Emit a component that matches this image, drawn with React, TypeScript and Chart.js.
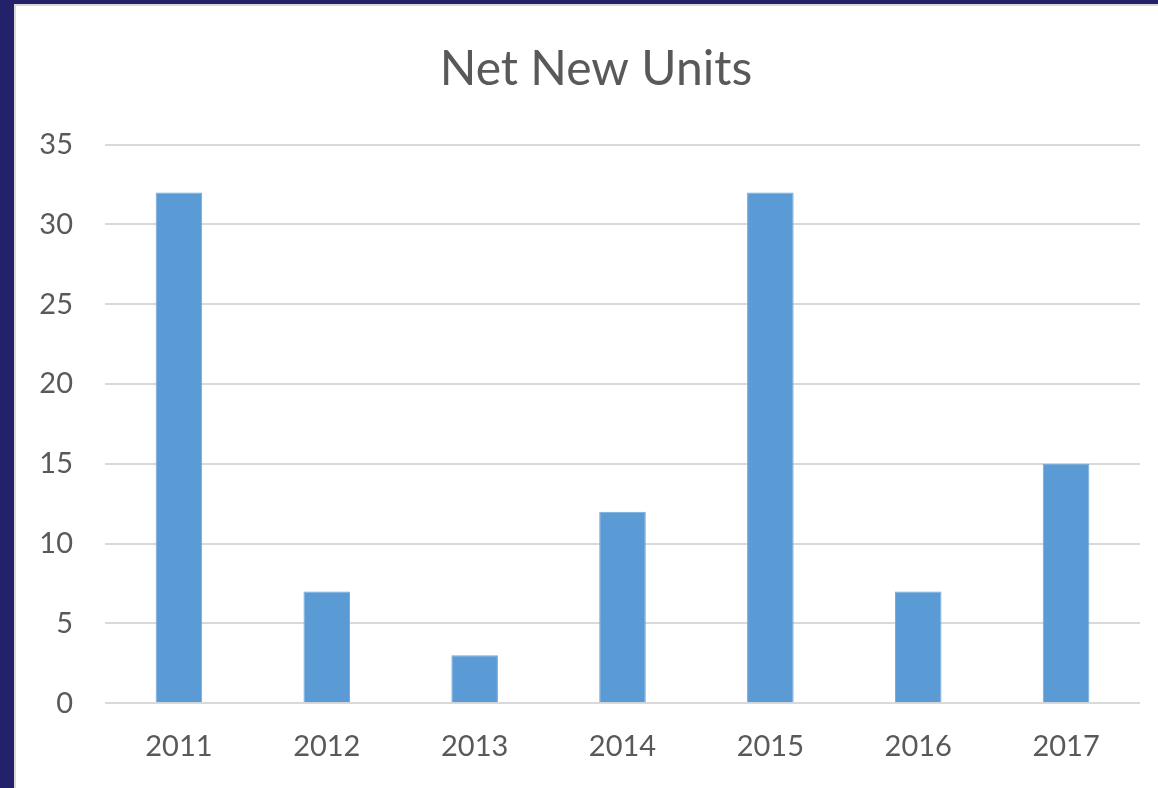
import React, { useEffect, useRef } from "react";
import { Chart, registerables } from "chart.js";

Chart.register(...registerables);

const categories: string[] = ["2011", "2012", "2013", "2014", "2015", "2016", "2017"];
const netNewUnits: number[] = [32, 7, 3, 12, 32, 7, 15];
const yTicks: number[] = [0, 5, 10, 15, 20, 25, 30, 35];

const FONT = "Lato, 'Open Sans', sans-serif";

export default function App() {
  const ref = useRef<HTMLCanvasElement | null>(null);

  useEffect(() => {
    if (!ref.current) return;
    const chart = new Chart(ref.current, {
      type: "bar",
      data: {
        labels: categories,
        datasets: [
          {
            label: "Net New Units",
            data: netNewUnits,
            backgroundColor: "#5b9bd5",
            borderColor: "#6ea8dc",
            borderWidth: 1,
            barPercentage: 0.315,
            categoryPercentage: 1,
          },
        ],
      },
      options: {
        animation: false,
        responsive: false,
        maintainAspectRatio: false,
        layout: { padding: { top: 35, right: 18, bottom: 0, left: 36 } },
        plugins: {
          legend: { display: false },
          tooltip: { enabled: false },
          title: {
            display: true,
            text: "Net New Units",
            color: "#595959",
            font: { family: FONT, size: 48, weight: "normal" },
            padding: { top: 0, bottom: 46 },
          },
        },
        scales: {
          x: {
            grid: { display: false, drawTicks: false },
            border: { display: false },
            ticks: {
              color: "#595959",
              font: { family: FONT, size: 29 },
              padding: 26,
            },
          },
          y: {
            min: 0,
            max: 35,
            afterBuildTicks: (axis: any) => {
              axis.ticks = yTicks.map((v) => ({ value: v }));
            },
            afterFit: (axis: any) => {
              axis.width = 53;
              axis._computeLabelArea = () => undefined;
            },
            grid: { color: "#d9d9d9", lineWidth: 2, drawTicks: false },
            border: { display: false },
            ticks: {
              color: "#595959",
              font: { family: FONT, size: 29 },
              padding: 32,
            },
          },
        },
      },
    });
    return () => chart.destroy();
  }, []);

  return (
    <div
      style={{
        position: "fixed",
        left: 0,
        top: 0,
        width: 1158,
        height: 788,
        background: "#22216a",
        overflow: "hidden",
      }}
    >
      <div
        style={{
          position: "absolute",
          left: 14,
          top: 4,
          width: 1158 - 14 - 2,
          height: 788 - 4 - 2,
          background: "#ffffff",
          borderTop: "2px solid #d9d9d9",
          borderLeft: "2px solid #d9d9d9",
          borderBottom: "2px solid #e6e6e6",
        }}
      >
        <canvas
          ref={ref}
          width={1142}
          height={784}
          style={{ display: "block", position: "absolute", left: 0, top: 0 }}
        />
      </div>
    </div>
  );
}
